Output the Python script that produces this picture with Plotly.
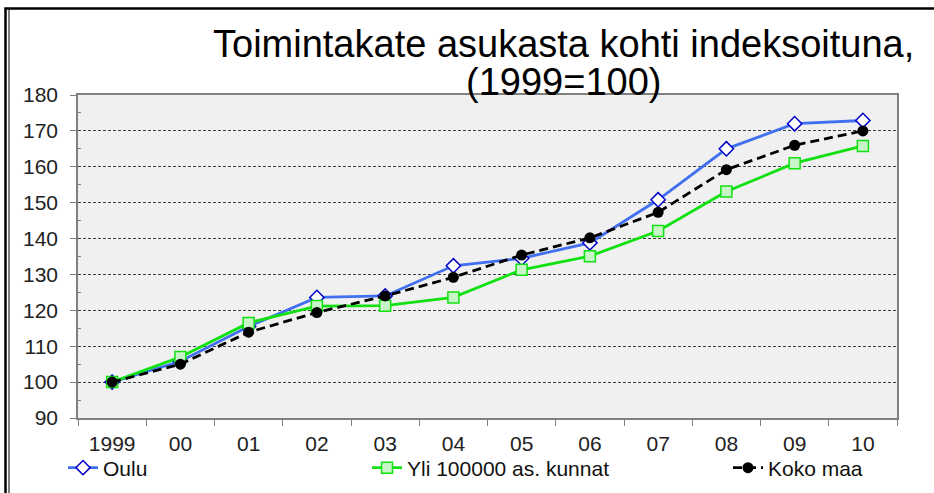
import plotly.graph_objects as go

years = ["1999", "00", "01", "02", "03", "04", "05", "06", "07", "08", "09", "10"]
oulu = [100, 105.8, 115.5, 123.6, 124.0, 132.4, 134.5, 138.8, 150.8, 165.0, 172.0, 172.9]
yli = [100, 107.0, 116.5, 121.2, 121.3, 123.6, 131.3, 135.1, 142.1, 153.1, 161.0, 165.8]
koko = [100, 105.0, 113.9, 119.4, 124.0, 129.2, 135.4, 140.2, 147.3, 159.2, 166.0, 170.0]
y_ticks = [90, 100, 110, 120, 130, 140, 150, 160, 170, 180]

W, H = 934, 493
L, R, T, B = 78, 37, 95, 75
PW, PH = W - L - R, H - T - B


def px(x):
    return (x - L) / PW


def py(y):
    return (H - B - y) / PH


def cx(x):
    return x / W


def cy(y):
    return (H - y) / H


FONT = "Liberation Sans, Arial, sans-serif"

fig = go.Figure()
fig.add_trace(go.Scatter(
    x=years, y=oulu, name="Oulu", mode="lines+markers",
    line=dict(color="#4070F0", width=2.8),
    marker=dict(symbol="diamond", size=11, color="white",
                line=dict(color="#0000CC", width=1.5)),
    legend="legend", showlegend=True))
fig.add_trace(go.Scatter(
    x=years, y=yli, name="Yli 100000 as. kunnat", mode="lines+markers",
    line=dict(color="#11E011", width=2.8),
    marker=dict(symbol="square", size=11, color="#C8F5C8",
                line=dict(color="#11E011", width=1.5)),
    legend="legend2", showlegend=True))
fig.add_trace(go.Scatter(
    x=years, y=koko, name="Koko maa", mode="lines+markers",
    line=dict(color="black", width=2.8, dash="9px,5px"),
    marker=dict(symbol="circle", size=11, color="black"),
    legend="legend3", showlegend=True))

leg_common = dict(orientation="h", yanchor="middle", xanchor="left",
                  xref="container", yref="container",
                  font=dict(family=FONT, size=21, color="#111"),
                  bgcolor="rgba(0,0,0,0)")

fig.update_layout(
    width=W, height=H, showlegend=True,
    margin=dict(l=L, r=R, t=T, b=B, autoexpand=False),
    paper_bgcolor="white", plot_bgcolor="#F0F0F0",
    font=dict(family=FONT, size=21, color="#222"),
    legend=dict(x=cx(63), y=cy(468), **leg_common),
    legend2=dict(x=cx(367), y=cy(468), **leg_common),
    legend3=dict(x=cx(728), y=cy(468), **leg_common),
    xaxis=dict(
        type="category", tickson="boundaries", ticks="outside", ticklen=6,
        tickcolor="#808080", showline=True, linecolor="#808080", linewidth=1.5,
        mirror=True, showgrid=False, ticklabelstandoff=6, automargin=False,
        tickfont=dict(family=FONT, size=21, color="#222"),
        range=[-0.5, 11.5]),
    yaxis=dict(
        range=[90, 180], tickvals=y_ticks, ticks="outside", ticklen=6,
        tickcolor="#808080", showline=True, linecolor="#808080", linewidth=1.5,
        mirror=True, showgrid=True, gridcolor="#404040", gridwidth=1,
        griddash="3px,2px", zeroline=False, ticklabelstandoff=8, automargin=False,
        tickfont=dict(family=FONT, size=21, color="#222"),
        minor=dict(ticks="inside", tickvals=[95, 105, 115, 125, 135, 145, 155, 165, 175],
                   ticklen=3, tickcolor="#808080", showgrid=False)),
    annotations=[
        dict(text="Toimintakate asukasta kohti indeksoituna,", x=px(563), y=py(44),
             xref="paper", yref="paper", xanchor="center", yanchor="middle",
             showarrow=False, font=dict(family=FONT, size=38, color="black")),
        dict(text="(1999=100)", x=px(563), y=py(82),
             xref="paper", yref="paper", xanchor="center", yanchor="middle",
             showarrow=False, font=dict(family=FONT, size=38, color="black")),
    ],
    shapes=[
        dict(type="rect", xref="paper", yref="paper",
             x0=px(5.5), x1=px(960), y0=py(520), y1=py(8.5),
             line=dict(color="black", width=2.5), layer="above"),
        dict(type="line", xref="paper", yref="paper",
             x0=px(9), x1=px(9), y0=py(520), y1=py(9),
             line=dict(color="black", width=1), layer="above"),
    ],
)

fig.write_html("out.html", config={"displayModeBar": False},
               post_script="document.body.style.margin='0px';document.body.style.overflow='hidden';")
